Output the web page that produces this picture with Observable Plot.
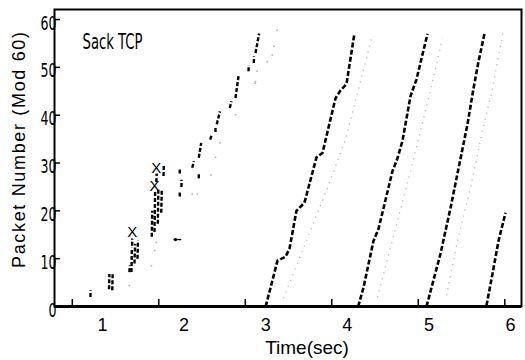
<!DOCTYPE html>
<html><head><meta charset="utf-8">
<script src="https://cdn.jsdelivr.net/npm/d3@7"></script>
<script src="https://cdn.jsdelivr.net/npm/@observablehq/plot@0.6"></script>
<style>html,body{margin:0;padding:0;background:#fff}svg{display:block}</style>
</head><body><div id="chart"></div>
<script>
// Axis ticks / labels
const xTicks = [1, 2, 3, 4, 5, 6];
const xTickMarks = [0.63, 1.69, 2.75, 3.81, 4.87, 5.93];
const yTicks = [0, 10, 20, 30, 40, 50, 60];

// Sent-packet waves (time in sec, packet number mod 60)
const wave1T = [3.00, 3.145, 3.243, 3.292, 3.377, 3.475, 3.623, 3.696, 3.855, 3.917, 3.990, 4.088];
const wave1S = [0, 9.6, 10.4, 12.1, 20.0, 21.7, 31.2, 32.1, 43.5, 45.2, 46.5, 57.1];
const wave2T = [4.134, 4.199, 4.321, 4.382, 4.554, 4.615, 4.676, 4.775, 4.848, 4.983];
const wave2S = [0, 4.0, 13.7, 16.2, 28.3, 31.0, 34.6, 44.0, 47.5, 57.0];
const wave3T = [4.971, 5.081, 5.142, 5.265, 5.424, 5.473, 5.547, 5.608, 5.681];
const wave3S = [0, 7.1, 11.0, 20.6, 34.0, 38.1, 45.6, 51.2, 57.0];
const wave4T = [5.706, 5.780, 5.853, 5.939];
const wave4S = [0.2, 6.9, 13.7, 19.6];

// Early (slow-start / recovery) packet dashes: start and end points
const earlyT1 = [0.853, 1.080, 1.120, 1.330, 1.355, 1.392, 1.429, 1.364, 1.604, 1.637, 1.678, 1.720, 1.660, 1.748, 1.947, 1.968, 1.947, 2.100, 2.180, 2.180, 2.320, 2.385, 2.400, 2.560, 2.630, 2.790, 2.855, 2.875];
const earlyS1 = [2.0, 3.6, 3.4, 7.2, 7.2, 9.0, 10.0, 12.7, 14.6, 15.6, 17.3, 19.6, 26.0, 27.3, 23.0, 25.0, 27.8, 29.0, 26.8, 31.1, 34.9, 36.5, 38.1, 41.5, 43.6, 49.2, 50.9, 53.0];
const earlyT2 = [0.853, 1.085, 1.125, 1.335, 1.360, 1.400, 1.435, 1.364, 1.610, 1.645, 1.685, 1.727, 1.665, 1.752, 1.947, 1.968, 1.947, 2.120, 2.180, 2.210, 2.340, 2.385, 2.440, 2.580, 2.670, 2.792, 2.857, 2.920];
const earlyS2 = [3.4, 6.8, 7.1, 8.6, 12.3, 13.1, 13.8, 14.2, 20.0, 24.0, 24.8, 24.6, 27.8, 29.8, 24.0, 26.5, 28.8, 30.4, 27.8, 34.2, 36.0, 37.5, 40.8, 42.9, 48.5, 50.5, 52.3, 57.1];

// Stray mark near t=1.9 (short horizontal dash with a dot)
const strayT = [1.870, 1.965];
const strayS = [14.0, 14.0];

// Dropped packets (X marks)
const dropT = [1.364, 1.637, 1.660];
const dropS = [15.6, 25.2, 29.0];

// Faint ack traces
const gray1T = [3.218, 3.757, 3.978, 4.310];
const gray1S = [1.7, 24.8, 35.0, 56.9];
const gray2T = [4.370, 4.775, 4.995, 5.167];
const gray2S = [1.9, 28.3, 43.5, 56.0];
const gray3T = [5.216, 5.350, 5.510, 5.660, 5.780, 5.914];
const gray3S = [2.3, 13.7, 24.8, 37.0, 45.6, 57.9];
const grayDotT = [1.33, 1.60, 1.64, 1.66, 2.10, 2.16, 2.33, 2.385, 2.44, 2.63, 2.87, 2.875, 2.895, 3.02, 3.08, 3.10, 3.14];
const grayDotS = [4.4, 8.5, 11.7, 13.4, 23.5, 23.5, 27.5, 31.2, 34.2, 40.1, 46.7, 47.0, 49.2, 51.2, 52.6, 54.4, 57.8];

// Build tables
const toRows = (T, S, w) => T.map((t, i) => ({t, s: S[i], w}));
const waveRows = [
  ...toRows(wave1T, wave1S, 1), ...toRows(wave2T, wave2S, 2),
  ...toRows(wave3T, wave3S, 3), ...toRows(wave4T, wave4S, 4)
];
const grayRows = [
  ...toRows(gray1T, gray1S, 1), ...toRows(gray2T, gray2S, 2), ...toRows(gray3T, gray3S, 3)
];
const earlyRows = earlyT1.map((t, i) => ({t1: t, s1: earlyS1[i], t2: earlyT2[i], s2: earlyS2[i]}));
const strayRows = [{t1: strayT[0], s1: strayS[0], t2: strayT[1], s2: strayS[1]}];
const dropRows = toRows(dropT, dropS, 0);
const grayDots = toRows(grayDotT, grayDotS, 0);

const narrow = "'Liberation Sans Narrow', 'DejaVu Sans Condensed', 'Liberation Sans', sans-serif";
const sans = "'Liberation Sans', Arial, sans-serif";

const chart = Plot.plot({
  width: 525,
  height: 360,
  marginLeft: 54,
  marginRight: 4,
  marginTop: 9,
  marginBottom: 54,
  style: {fontFamily: sans, background: "white", color: "black"},
  x: {domain: [0.412, 6.135], axis: null},
  y: {domain: [0, 62.1], axis: null},
  marks: [
    // faint ack traces
    Plot.line(grayRows, {x: "t", y: "s", z: "w", stroke: "#b5b5b5", strokeWidth: 1.3, strokeDasharray: "1.2,5", strokeLinecap: "butt"}),
    Plot.dot(grayDots, {x: "t", y: "s", r: 0.9, fill: "#b0b0b0", stroke: null}),
    // sent packets
    Plot.line(waveRows, {x: "t", y: "s", z: "w", stroke: "black", strokeWidth: 2.6, strokeDasharray: "5,2.2", strokeLinecap: "butt", strokeLinejoin: "miter"}),
    Plot.link(earlyRows, {x1: "t1", y1: "s1", x2: "t2", y2: "s2", stroke: "black", strokeWidth: 2.4, strokeDasharray: "4,2", strokeLinecap: "butt"}),
    Plot.link(strayRows, {x1: "t1", y1: "s1", x2: "t2", y2: "s2", stroke: "black", strokeWidth: 1.4}),
    Plot.dot(strayRows, {x: "t1", y: "s1", r: 1.6, fill: "black", dx: 2}),
    Plot.text(dropRows, {x: "t", y: "s", text: () => "X", fontSize: 15, fontFamily: sans, fill: "black"}),
    // frame and axes
    Plot.frame({stroke: "black", strokeWidth: 2}),
    Plot.ruleY([0], {stroke: "black", strokeWidth: 3}),
    Plot.tickY(yTicks, {y: d => d, stroke: "black", strokeWidth: 1.5, insetRight: 461}),
    Plot.tickX(xTickMarks, {x: d => d, stroke: "black", strokeWidth: 1.5, insetTop: 290}),
    Plot.axisY({ticks: yTicks, tickSize: 0, tickPadding: -2, dy: 4, fontSize: 19, fontFamily: narrow, label: null, tickFormat: d3.format("d")}),
    Plot.axisX({ticks: xTicks, tickSize: 0, tickPadding: 12, fontSize: 18, fontFamily: sans, label: null, tickFormat: d3.format("d")}),
    Plot.text(["Time(sec)"], {frameAnchor: "bottom", text: d => d, dx: 19, dy: 41, fontSize: 19, fontFamily: sans, lineAnchor: "middle"}),
    Plot.text(["Packet Number (Mod 60)"], {frameAnchor: "left", text: d => d, rotate: -90, dx: -35, dy: -8, fontSize: 18, fontFamily: sans, textAnchor: "middle", lineAnchor: "middle"}),
    Plot.text(["Sack TCP"], {frameAnchor: "top-left", text: d => d, dx: 28, dy: 25, fontSize: 21, fontFamily: narrow, textAnchor: "start", lineAnchor: "top"})
  ]
});
document.getElementById("chart").appendChild(chart);

// Condense the narrow-typeface texts as in the scanned original
const svg = d3.select(chart);
svg.selectAll("text").each(function() {
  const t = this.textContent;
  if (t === "Sack TCP") { this.setAttribute("textLength", 60); this.setAttribute("lengthAdjust", "spacingAndGlyphs"); }
  if (t === "Packet Number (Mod 60)") { this.setAttribute("textLength", 236); this.setAttribute("lengthAdjust", "spacing"); }
});
svg.selectAll('g[aria-label="y-axis tick label"] text').each(function() {
  const n = this.textContent.length;
  this.setAttribute("textLength", n * 8);
  this.setAttribute("lengthAdjust", "spacingAndGlyphs");
});
</script>
</body></html>
